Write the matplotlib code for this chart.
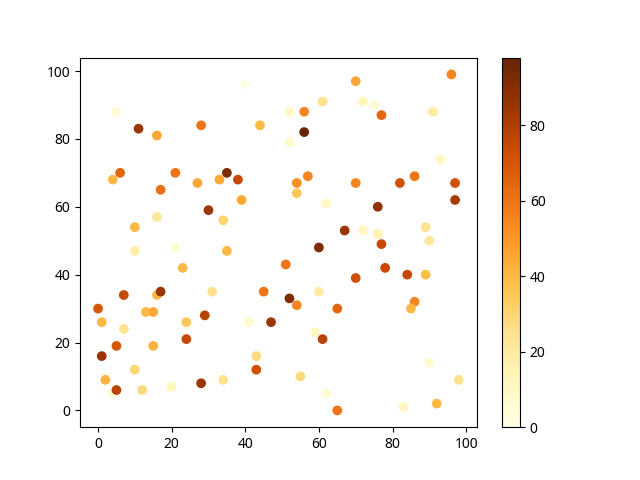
import matplotlib.pyplot as plt

plt.rcParams['font.family'] = ['Noto Sans', 'DejaVu Sans']

x = [4, 5, 11, 16, 28, 40, 44, 52, 56, 61, 52, 56, 70, 72, 75, 77, 93, 91, 96,
     4, 6, 17, 21, 27, 33, 35, 38, 30, 39, 54, 54, 57, 62, 67, 60, 70, 72,
     76, 76, 77, 78, 82, 86, 89, 90, 97, 97, 84, 89, 86, 85,
     10, 16, 10, 21, 34, 35, 23, 51, 16, 17, 7, 31, 45, 60,
     0, 1, 1, 7, 13, 15, 15, 24, 24, 29, 47, 54, 61, 65, 59,
     2, 5, 5, 10, 12, 20, 28, 34, 41, 43, 43, 52, 55, 62, 65, 70, 83, 90, 92, 98]
y = [5, 88, 83, 81, 84, 96, 84, 88, 88, 91, 79, 82, 97, 91, 90, 87, 74, 88, 99,
     68, 70, 65, 70, 67, 68, 70, 68, 59, 62, 67, 64, 69, 61, 53, 48, 67, 53,
     52, 60, 49, 42, 67, 69, 54, 50, 67, 62, 40, 40, 32, 30,
     54, 57, 47, 48, 56, 47, 42, 43, 34, 35, 34, 35, 35, 35,
     30, 26, 16, 24, 29, 29, 19, 26, 21, 28, 26, 31, 21, 30, 23,
     9, 19, 6, 12, 6, 7, 8, 9, 26, 16, 12, 33, 10, 5, 0, 39, 1, 14, 2, 9]
c = [5, 5, 85, 45, 60, 0, 40, 10, 55, 25, 8, 98, 45, 12, 5, 65, 10, 20, 55,
     40, 65, 62, 60, 45, 45, 92, 75, 85, 45, 52, 35, 55, 10, 85, 92, 55, 10,
     15, 88, 75, 75, 72, 60, 25, 22, 72, 82, 75, 38, 55, 40,
     40, 22, 18, 5, 30, 40, 40, 60, 40, 85, 75, 25, 60, 20,
     70, 40, 85, 25, 40, 45, 42, 35, 75, 78, 85, 55, 78, 65, 10,
     42, 70, 78, 30, 28, 12, 85, 25, 8, 28, 72, 92, 28, 5, 60, 72, 10, 8, 40, 25]

fig, ax = plt.subplots(figsize=(6.4, 4.8), dpi=100)
sc = ax.scatter(x, y, c=c, cmap='YlOrBr')
fig.colorbar(sc, ax=ax)

fig.savefig('out.png')
